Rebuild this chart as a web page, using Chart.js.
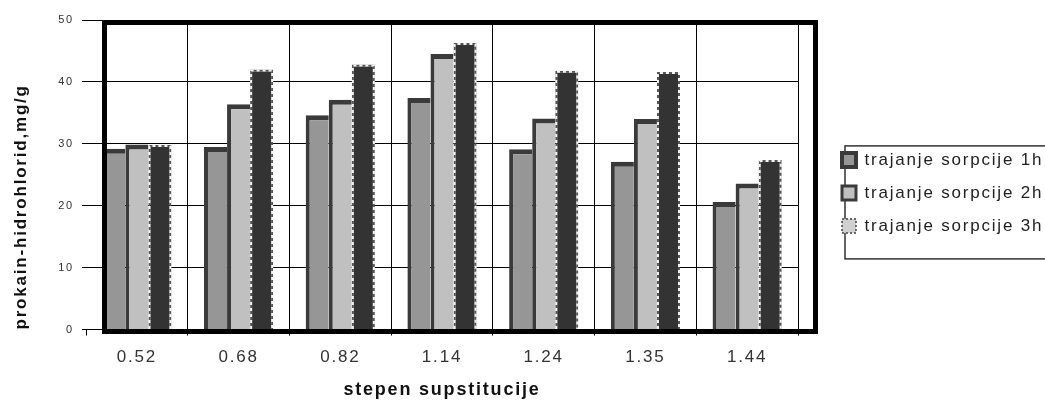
<!DOCTYPE html>
<html>
<head>
<meta charset="utf-8">
<script src="https://cdn.jsdelivr.net/npm/chart.js@4.4.1/dist/chart.umd.min.js"></script>
<style>
  html, body { margin: 0; padding: 0; background: #fff; }
  #wrap { width: 1045px; height: 401px; position: relative; }
</style>
</head>
<body>
<div id="wrap"><canvas id="chart"></canvas></div>
<script>
const categories = ['0.52', '0.68', '0.82', '1.14', '1.24', '1.35', '1.44'];
const sorption1h = [29.2, 29.5, 34.6, 37.4, 29.1, 27.1, 20.6];
const sorption2h = [29.9, 36.4, 37.1, 44.5, 34.1, 34.0, 23.6];
const sorption3h = [29.8, 42.0, 42.8, 46.3, 41.8, 41.6, 27.4];
const seriesNames = ['trajanje sorpcije 1h', 'trajanje sorpcije 2h', 'trajanje sorpcije 3h'];
const yTicks = [0, 10, 20, 30, 40, 50];

const PLOT_LEFT = 86;
const PLOT_RIGHT = 798;
const PLOT_BOTTOM = 329.5;
const LEGEND_WIDTH = 219;
const LETTER_SPACING = '1.8px';

Chart.defaults.font.family = '"Liberation Sans", Arial, sans-serif';

// the source picture is stretched sideways, so all text gets a bit of tracking
const spacing = {
  id: 'spacing',
  beforeLayout(chart) { chart.ctx.letterSpacing = LETTER_SPACING; },
  beforeDraw(chart) { chart.ctx.letterSpacing = LETTER_SPACING; }
};

// measureText ignores the tracking, so pin the legend width instead
const legendWidth = {
  id: 'legendWidth',
  beforeUpdate(chart) {
    const lg = chart.legend;
    if (!lg || lg._pinned) return;
    const fit = lg.fit;
    lg.fit = function () {
      fit.call(this);
      this.width = LEGEND_WIDTH;
    };
    lg._pinned = true;
  }
};

// box round the legend, open on the right like in the original
const legendFrame = {
  id: 'legendFrame',
  beforeDraw(chart) {
    const boxes = chart.legend && chart.legend.legendHitBoxes;
    if (!boxes || !boxes.length) return;
    const first = boxes[0];
    const last = boxes[boxes.length - 1];
    const ctx = chart.ctx;
    const x = first.left + 3;
    const top = first.top + first.height / 2 - 14;
    const bottom = last.top + last.height / 2 + 33;
    ctx.save();
    ctx.strokeStyle = '#333';
    ctx.lineWidth = 1.5;
    ctx.strokeRect(x, top, chart.width - x + 10, bottom - top);
    ctx.restore();
  }
};

// dashed light outline of the 3h bars and the heavy black frame
const plotDecor = {
  id: 'plotDecor',
  afterDatasetsDraw(chart) {
    const ctx = chart.ctx;
    ctx.save();
    chart.getDatasetMeta(2).data.forEach(bar => {
      const { x, y, base, width } = bar.getProps(['x', 'y', 'base', 'width'], true);
      const l = x - width / 2 + 1;
      const r = x + width / 2 - 1;
      ctx.beginPath();
      ctx.moveTo(l, base);
      ctx.lineTo(l, y + 1);
      ctx.lineTo(r, y + 1);
      ctx.lineTo(r, base);
      ctx.setLineDash([3, 3]);
      ctx.strokeStyle = '#f4f4f4';
      ctx.lineWidth = 2;
      ctx.stroke();
    });
    ctx.setLineDash([]);
    const a = chart.chartArea;
    ctx.strokeStyle = '#000';
    ctx.lineWidth = 5;
    ctx.strokeRect(a.left + 18.5, a.top + 2.5, a.right - a.left - 1, a.bottom - a.top - 0.5);
    ctx.restore();
  }
};

new Chart(document.getElementById('chart'), {
  type: 'bar',
  data: {
    labels: categories,
    datasets: [
      {
        label: seriesNames[0],
        data: sorption1h,
        backgroundColor: '#969696',
        borderColor: '#3a3a3a',
        borderWidth: { left: 4, top: 5, right: 0, bottom: 0 },
        borderSkipped: false
      },
      {
        label: seriesNames[1],
        data: sorption2h,
        backgroundColor: '#c0c0c0',
        borderColor: '#3a3a3a',
        borderWidth: { left: 4, top: 5, right: 0, bottom: 0 },
        borderSkipped: false
      },
      {
        label: seriesNames[2],
        data: sorption3h,
        backgroundColor: '#333333',
        borderColor: '#555555',
        borderWidth: { left: 2, top: 2, right: 2, bottom: 0 },
        borderSkipped: false
      }
    ]
  },
  options: {
    responsive: true,
    maintainAspectRatio: false,
    animation: false,
    layout: { padding: { top: 20, right: 0, bottom: 0, left: 0 } },
    datasets: {
      bar: { categoryPercentage: 0.68, barPercentage: 1 }
    },
    scales: {
      x: {
        grid: {
          color: ctx => (ctx.index === 0 ? 'transparent' : '#000'),
          tickColor: '#000',
          tickLength: 6,
          lineWidth: 1
        },
        border: { display: false },
        ticks: { color: '#333', padding: 12, font: { size: 17 } },
        title: {
          display: true,
          text: 'stepen supstitucije',
          color: '#111',
          font: { size: 18, weight: 'bold' },
          padding: { top: 0, bottom: 0 }
        },
        afterFit(scale) { scale.height = scale.chart.height - PLOT_BOTTOM; }
      },
      y: {
        min: 0,
        max: 50,
        afterBuildTicks(scale) { scale.ticks = yTicks.map(v => ({ value: v })); },
        grid: { color: '#000', tickLength: 4, lineWidth: 1 },
        border: { display: false },
        ticks: { color: '#333', padding: 8, font: { size: 11 } },
        title: {
          display: true,
          text: 'prokain-hidrohlorid,mg/g',
          align: 'start',
          color: '#111',
          font: { size: 17, weight: 'bold' },
          padding: { top: 11, bottom: 0 }
        },
        afterFit(scale) { scale.width = PLOT_LEFT; }
      },
      // empty axis that only keeps a gap between the plot and the legend
      gap: {
        position: 'right',
        min: 0,
        max: 50,
        grid: { display: false },
        border: { display: false },
        ticks: { display: false },
        afterFit(scale) {
          scale.width = Math.max(0, scale.chart.width - LEGEND_WIDTH - PLOT_RIGHT);
        }
      }
    },
    plugins: {
      legend: {
        position: 'right',
        align: 'start',
        title: { display: true, text: '', font: { size: 12 }, padding: { top: 101, bottom: 0 } },
        labels: {
          color: '#222',
          font: { size: 17 },
          boxWidth: 14,
          boxHeight: 14,
          padding: 16,
          generateLabels(chart) {
            const items = Chart.defaults.plugins.legend.labels.generateLabels(chart);
            items[0].lineWidth = 4;
            items[1].lineWidth = 3;
            items[2].fillStyle = '#d0d0d0';
            items[2].strokeStyle = '#444';
            items[2].lineWidth = 1.5;
            items[2].lineDash = [2, 2];
            return items;
          }
        }
      },
      tooltip: { enabled: false }
    }
  },
  plugins: [spacing, legendWidth, legendFrame, plotDecor]
});
</script>
</body>
</html>
